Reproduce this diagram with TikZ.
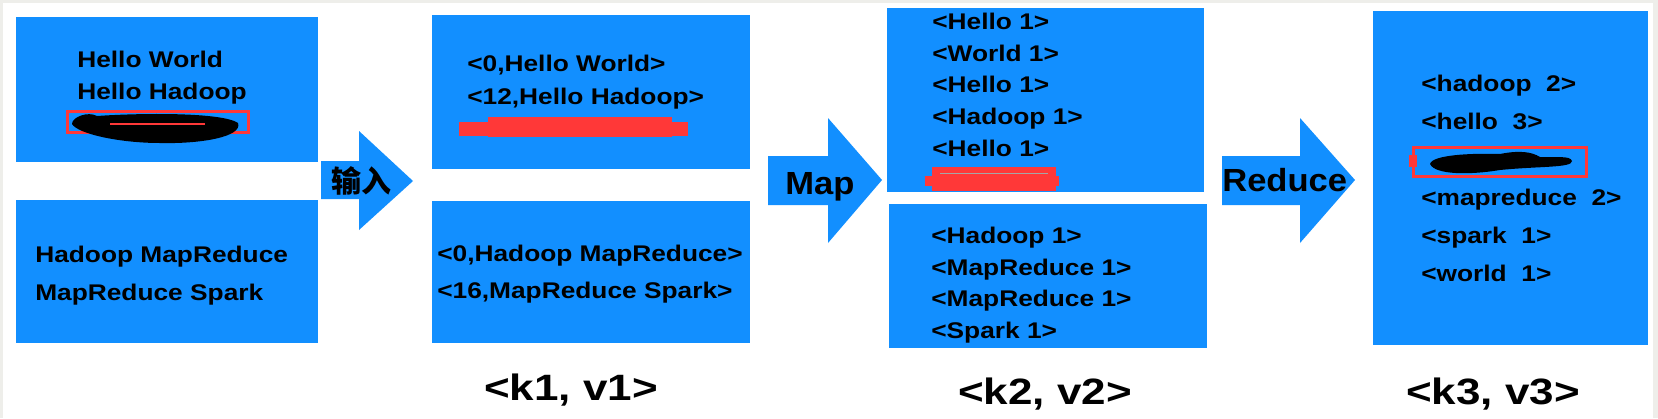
\documentclass[tikz,border=0pt]{standalone}
\usepackage{fontspec}
\setmainfont{Liberation Sans}
\newfontfamily\cjk{Noto Sans CJK SC}
\usepackage{xcolor}
\usepackage{tikz}

\definecolor{boxblue}{RGB}{18,143,255}
\definecolor{redmark}{RGB}{255,56,56}
\definecolor{framegray}{RGB}{238,238,234}

\begin{document}
\begin{tikzpicture}[x=0.75pt,y=0.75pt,yscale=-1,xscale=1,
  boxtext/.style={anchor=base west, inner sep=0pt, font=\fontsize{17}{20}\selectfont\bfseries, xscale=1.16},
  kvlabel/.style={anchor=base, inner sep=0pt, font=\fontsize{27.5}{30}\selectfont\bfseries, xscale=1.2},
  steplabel/.style={anchor=base west, inner sep=0pt, font=\fontsize{24}{28}\selectfont\bfseries, xscale=1.08}]
\useasboundingbox (0,0) rectangle (1658,418);
%set frame
\fill [framegray] (0,0) rectangle (1658,418);
\fill [white] (3,3) rectangle (1653,418);

%Shape: Rectangle [input boxes]
\fill [boxblue] (16,17) rectangle (318,162);
\fill [boxblue] (16,200) rectangle (318,343);
%Shape: Rectangle [k1 v1 boxes]
\fill [boxblue] (432,15) rectangle (750,169);
\fill [boxblue] (432,201) rectangle (750,343);
%Shape: Rectangle [k2 v2 boxes]
\fill [boxblue] (887,8) rectangle (1204,192);
\fill [boxblue] (889,204) rectangle (1207,348);
%Shape: Rectangle [k3 v3 box]
\fill [boxblue] (1373,11) rectangle (1648,345);

%Shape: Right Arrow [input]
\fill [boxblue] (321,161) -- (359,161) -- (359,131) -- (413,181) -- (359,230) -- (359,199) -- (321,199) -- cycle ;
%Shape: Right Arrow [map]
\fill [boxblue] (768,156) -- (828,156) -- (828,118) -- (882,180) -- (828,243) -- (828,205) -- (768,205) -- cycle ;
%Shape: Right Arrow [reduce]
\fill [boxblue] (1222,156) -- (1300,156) -- (1300,118) -- (1355,180) -- (1300,243) -- (1300,205) -- (1222,205) -- cycle ;

%Marks over hidden lines
\draw [redmark, line width=2.25pt] (67,111) rectangle (248,132) ;
\fill [black] (72,124) .. controls (72,117) and (88,111) .. (97,116) .. controls (140,113) and (222,112) .. (238,123) .. controls (243,137) and (200,144) .. (160,143) .. controls (120,143) and (78,134) .. cycle ;
\draw [redmark, line width=1.2pt] (110,124) -- (205,124) ;
\fill [redmark] (459,122) rectangle (688,136) ;
\fill [redmark] (488,117) rectangle (672,137) ;
\fill [redmark] (932,167) rectangle (1056,191) ;
\fill [redmark] (925,176) rectangle (1059,186) ;
\draw [gray!70, line width=0.6pt] (940,173) -- (1048,173) ;
\draw [redmark, line width=2.25pt] (1413,147) rectangle (1586,176) ;
\fill [redmark] (1409,155) rectangle (1417,167) ;
\fill [black] (1430,164) .. controls (1432,155) and (1470,153) .. (1500,154) .. controls (1520,150) and (1532,152) .. (1540,157) .. controls (1555,158) and (1570,155) .. (1572,161) .. controls (1572,168) and (1540,166) .. (1500,170) .. controls (1470,175) and (1435,175) .. cycle ;

% Text Node
\node [boxtext] (hw) at (77,67) {Hello World};
% Text Node
\node [boxtext] (hh) at (77,99) {Hello Hadoop};
% Text Node
\node [boxtext] (hm) at (35,262) {Hadoop MapReduce};
% Text Node
\node [boxtext] (ms) at (35,300) {MapReduce Spark};
% Text Node
\node [boxtext] (ahw) at (467,71) {<0,Hello World>};
% Text Node
\node [boxtext] (ahh) at (467,104) {<12,Hello Hadoop>};
% Text Node
\node [boxtext] (ahm) at (437,261) {<0,Hadoop MapReduce>};
% Text Node
\node [boxtext] (ams) at (437,298) {<16,MapReduce Spark>};
% Text Node
\node [boxtext] (m1) at (932,29) {<Hello 1>};
% Text Node
\node [boxtext] (m2) at (932,61) {<World 1>};
% Text Node
\node [boxtext] (m3) at (932,92) {<Hello 1>};
% Text Node
\node [boxtext] (m4) at (932,124) {<Hadoop 1>};
% Text Node
\node [boxtext] (m5) at (932,156) {<Hello 1>};
% Text Node
\node [boxtext] (n1) at (931,243) {<Hadoop 1>};
% Text Node
\node [boxtext] (n2) at (931,275) {<MapReduce 1>};
% Text Node
\node [boxtext] (n3) at (931,306) {<MapReduce 1>};
% Text Node
\node [boxtext] (n4) at (931,338) {<Spark 1>};
% Text Node
\node [boxtext] (r1) at (1421,91) {<hadoop~~2>};
% Text Node
\node [boxtext] (r2) at (1421,129) {<hello~~3>};
% Text Node
\node [boxtext] (r3) at (1421,205) {<mapreduce~~2>};
% Text Node
\node [boxtext] (r4) at (1421,243) {<spark~~1>};
% Text Node
\node [boxtext] (r5) at (1421,281) {<world~~1>};

% Text Node
\node [anchor=center, inner sep=0pt, font={\cjk\bfseries\fontsize{22.5}{24}\selectfont}] (lin) at (361,181) {输入};
% Text Node
\node [steplabel] (lmap) at (785,194) {Map};
% Text Node
\node [steplabel] (lred) at (1222,191) {Reduce};

% Text Node
\node [kvlabel] (kv1) at (571,400) {<k1, v1>};
% Text Node
\node [kvlabel] (kv2) at (1045,404) {<k2, v2>};
% Text Node
\node [kvlabel] (kv3) at (1493,404) {<k3, v3>};

\end{tikzpicture}
\end{document}
